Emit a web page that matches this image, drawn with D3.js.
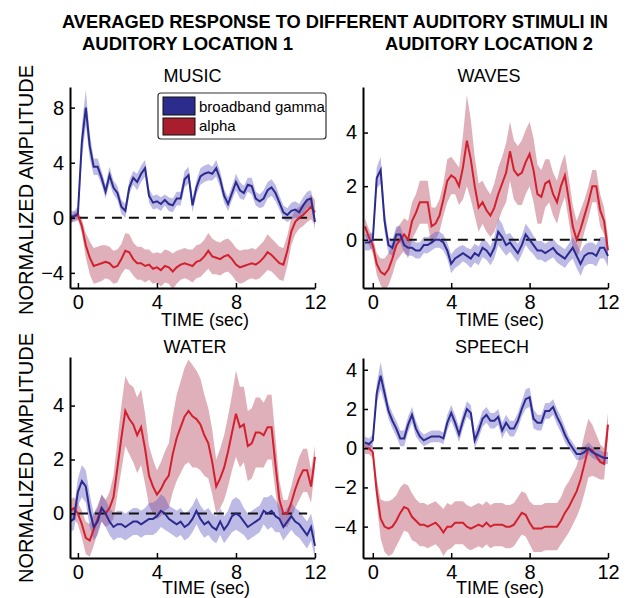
<!DOCTYPE html>
<html>
<head>
<meta charset="utf-8">
<script src="https://cdn.jsdelivr.net/npm/d3@7"></script>
<style>
  body { margin: 0; background: #fff; }
  text { font-family: "Liberation Sans", Arial, Helvetica, sans-serif; }
</style>
</head>
<body>
<div id="chart"></div>
<script>

// sample grid, seconds
const times = d3.range(63).map(i => +(-0.4 + 0.2 * i).toFixed(1));

const timeTicks   = [0, 4, 8, 12];
const musicTicks  = [-4, 0, 4, 8];
const wavesTicks  = [0, 2, 4];
const waterTicks  = [0, 2, 4];
const speechTicks = [-4, -2, 0, 2, 4];

const seriesNames = ["broadband gamma", "alpha"];

// MUSIC
const musicGamma = [0.1, 0.1, 0.3,
  5.5, 8.0, 5.2, 3.7, 3.7,
  2.9, 1.9, 3.1, 2.2, 1.8, 0.8, 0.5, 2.2, 2.9, 2.6,
  3.2, 3.6, 1.6, 1.1, 1.2, 1.0, 1.3, 1.0, 0.9, 1.4,
  1.4, 2.8, 3.1, 0.9, 2.2, 3.0, 3.2, 3.3, 3.2, 3.6,
  2.8, 1.6, 1.0, 1.8, 2.6, 2.0, 1.8, 2.4, 2.3, 1.4,
  1.2, 1.4, 2.0, 2.2, 1.8, 1.1, 0.4, 0.2, 0.5, 0.6,
  0.4, 0.9, 1.3, 1.4, -0.3];
const musicGammaSem = [0.4, 0.4, 0.5,
  1.2, 1.3, 0.9, 0.6, 0.6,
  0.5, 0.5, 0.6, 0.5, 0.5, 0.5, 0.5, 0.5, 0.5, 0.6,
  0.6, 0.6, 0.5, 0.5, 0.5, 0.5, 0.4, 0.5, 0.5, 0.5,
  0.5, 0.6, 0.6, 0.5, 0.5, 0.6, 0.6, 0.6, 0.5, 0.6,
  0.6, 0.5, 0.5, 0.5, 0.6, 0.6, 0.5, 0.5, 0.6, 0.5,
  0.5, 0.6, 0.6, 0.6, 0.6, 0.5, 0.5, 0.5, 0.6, 0.6,
  0.6, 0.6, 0.6, 0.6, 0.6];
const musicAlpha = [-0.2, 0.1, 0.2,
  -0.6, -2.0, -2.9, -3.5, -3.4,
  -3.3, -3.2, -3.3, -3.6, -3.5, -3.0, -2.4, -2.5, -3.0, -3.3,
  -3.3, -3.5, -3.4, -3.7, -3.6, -3.8, -3.5, -3.6, -3.9, -3.6,
  -3.4, -3.3, -3.4, -3.5, -3.2, -3.1, -2.8, -2.4, -2.8, -2.9,
  -3.0, -2.8, -2.7, -3.0, -3.4, -3.6, -3.5, -3.4, -3.3, -3.4,
  -3.2, -2.9, -2.5, -2.7, -3.0, -3.3, -3.4, -2.4, -1.0, -0.3,
  0.0, 0.2, 0.5, 0.8, 0.4];
const musicAlphaSem = [0.3, 0.3, 0.3,
  0.5, 0.9, 1.2, 1.3, 1.3,
  1.3, 1.2, 1.2, 1.2, 1.2, 1.1, 1.3, 1.3, 1.2, 1.2,
  1.2, 1.2, 1.1, 1.1, 1.1, 1.2, 1.2, 1.2, 1.3, 1.2,
  1.1, 1.1, 1.1, 1.2, 1.2, 1.2, 1.2, 1.3, 1.3, 1.2,
  1.2, 1.2, 1.2, 1.2, 1.2, 1.2, 1.2, 1.1, 1.1, 1.1,
  1.2, 1.2, 1.3, 1.2, 1.2, 1.2, 1.2, 1.1, 1.0, 0.9,
  0.8, 0.8, 0.8, 0.9, 0.9];

// WAVES
const wavesGamma = [-0.1, -0.1, 0.0,
  2.3, 2.6, 0.7, -0.2, -0.3,
  0.2, 0.2, -0.2, -0.3, -0.3, -0.4, -0.4, -0.2, -0.2, -0.1,
  0.0, 0.0, -0.1, -0.4, -0.9, -0.7, -0.6, -0.5, -0.6, -0.7,
  -0.5, -0.6, -0.3, -0.4, -0.6, -0.3, 0.3, 0.1, -0.2, -0.1,
  -0.3, -0.5, -0.2, 0.2, 0.0, -0.2, -0.4, -0.4, -0.5, -0.4,
  -0.3, -0.5, -0.6, -0.7, -0.5, -0.3, -0.6, -0.9, -0.6, -0.5,
  -0.5, -0.6, -0.3, -0.3, -0.6];
const wavesGammaSem = [0.3, 0.3, 0.3,
  0.4, 0.5, 0.4, 0.3, 0.3,
  0.3, 0.3, 0.3, 0.3, 0.3, 0.3, 0.3, 0.3, 0.3, 0.3,
  0.3, 0.3, 0.3, 0.3, 0.35, 0.35, 0.35, 0.3, 0.3, 0.35,
  0.35, 0.35, 0.35, 0.35, 0.35, 0.4, 0.5, 0.5, 0.4, 0.35,
  0.35, 0.35, 0.35, 0.4, 0.4, 0.35, 0.35, 0.35, 0.35, 0.35,
  0.35, 0.35, 0.35, 0.35, 0.35, 0.4, 0.45, 0.45, 0.4, 0.4,
  0.4, 0.4, 0.4, 0.4, 0.4];
const wavesAlpha = [0.5, 0.1, -0.2,
  -0.9, -1.2, -1.3, -1.1, -0.7,
  -0.2, 0.0, 0.2, 0.0, 0.7, 1.0, 1.4, 1.4, 1.4, 0.5,
  0.6, 0.9, 1.5, 2.2, 2.4, 2.3, 2.0, 2.7, 3.7, 3.0,
  2.0, 1.2, 1.4, 1.1, 0.9, 1.2, 1.7, 2.1, 2.5, 3.3,
  2.6, 2.4, 2.5, 2.9, 3.2, 2.6, 1.7, 1.6, 2.1, 2.2,
  1.7, 1.4, 2.0, 2.4, 1.5, 0.5, 0.0, 0.4, 0.9, 1.4,
  2.0, 2.0, 1.1, 0.7, -0.4];
const wavesAlphaSem = [0.3, 0.3, 0.3,
  0.4, 0.5, 0.6, 0.6, 0.6,
  0.6, 0.6, 0.6, 0.7, 0.7, 0.7, 0.8, 0.8, 0.8, 0.7,
  0.6, 0.6, 0.6, 0.8, 0.7, 0.6, 0.7, 1.2, 1.7, 1.5,
  1.1, 0.9, 0.8, 0.8, 0.8, 0.9, 1.0, 1.0, 1.1, 1.1,
  1.1, 1.1, 1.2, 1.2, 1.2, 1.2, 1.1, 1.0, 0.9, 0.8,
  0.8, 0.8, 0.8, 0.8, 0.8, 0.8, 0.7, 0.7, 0.6, 0.6,
  0.6, 0.6, 0.6, 0.5, 0.5];

// WATER
const waterGamma = [-0.3, -0.2, 0.8,
  1.2, 1.0, 0.1, -0.5, -0.3,
  0.2, 0.0, -0.3, -0.5, -0.4, -0.4, -0.5, -0.4, -0.3, -0.3,
  -0.4, -0.3, -0.2, -0.2, -0.1, 0.1, 0.0, -0.2, -0.3, -0.4,
  -0.3, -0.5, -0.4, -0.2, 0.1, -0.2, -0.4, -0.3, -0.5, -0.6,
  -0.3, -0.6, -0.4, -0.1, 0.0, -0.1, -0.3, -0.5, -0.4, -0.3,
  -0.2, 0.1, 0.0, 0.1, -0.1, -0.2, -0.5, -0.3, -0.1, -0.3,
  -0.4, -0.6, -0.8, -0.5, -1.2];
const waterGammaSem = [0.4, 0.4, 0.5,
  0.6, 0.6, 0.6, 0.5, 0.5,
  0.5, 0.5, 0.5, 0.5, 0.5, 0.5, 0.5, 0.5, 0.5, 0.5,
  0.5, 0.5, 0.6, 0.6, 0.6, 0.6, 0.6, 0.5, 0.5, 0.5,
  0.5, 0.5, 0.5, 0.5, 0.5, 0.5, 0.5, 0.5, 0.5, 0.5,
  0.5, 0.5, 0.5, 0.6, 0.6, 0.6, 0.5, 0.5, 0.5, 0.5,
  0.5, 0.5, 0.6, 0.6, 0.6, 0.5, 0.5, 0.5, 0.5, 0.5,
  0.5, 0.5, 0.5, 0.5, 0.5];
const waterAlpha = [0.1, 0.2, 0.0,
  -0.4, -0.9, -1.0, -0.6, -0.2,
  0.2, 0.0, 0.2, 0.6, 1.7, 2.8, 3.8, 3.5, 3.3, 2.9,
  3.2, 2.4, 1.4, 1.0, 0.7, 0.9, 1.2, 1.4, 2.2, 2.8,
  3.2, 3.6, 3.8, 3.6, 3.5, 3.3, 2.9, 2.6, 1.9, 1.0,
  1.3, 1.7, 2.3, 3.0, 3.7, 3.2, 3.3, 2.5, 2.6, 3.0,
  3.0, 2.9, 3.2, 3.2, 1.8, 0.5, 0.0, 0.0, 0.4, 0.9,
  1.3, 1.6, 1.6, 1.0, 2.1];
const waterAlphaSem = [0.4, 0.4, 0.4,
  0.5, 0.6, 0.6, 0.6, 0.5,
  0.5, 0.5, 0.6, 0.8, 1.0, 1.2, 1.3, 1.3, 1.4, 1.4,
  1.4, 1.3, 1.1, 1.0, 0.9, 1.0, 1.1, 1.2, 1.4, 1.6,
  1.7, 1.8, 1.9, 1.9, 1.8, 1.7, 1.5, 1.3, 1.2, 1.0,
  1.1, 1.2, 1.3, 1.4, 1.6, 1.5, 1.4, 1.3, 1.3, 1.3,
  1.3, 1.2, 1.2, 1.2, 1.0, 0.7, 0.5, 0.5, 0.6, 0.7,
  0.8, 0.8, 0.8, 0.6, 0.4];

// SPEECH
const speechGamma = [0.3, 0.2, 0.4,
  2.8, 3.7, 2.8, 1.9, 1.4,
  1.0, 0.5, 0.5, 1.2, 1.7, 1.0, 0.6, 0.4, 0.5, 0.6,
  0.6, 0.6, 0.5, 1.3, 1.8, 1.3, 0.7, 1.4, 2.0, 1.8,
  0.4, 0.9, 1.5, 1.7, 1.4, 1.4, 1.6, 0.9, 1.3, 1.0,
  1.0, 1.4, 2.0, 2.5, 2.6, 1.5, 1.3, 1.3, 1.9, 1.9,
  2.1, 1.6, 1.2, 0.7, 0.3, 0.0, -0.3, -0.3, -0.2, 0.0,
  -0.2, -0.3, -0.4, -0.5, -0.5];
const speechGammaSem = [0.3, 0.3, 0.3,
  0.5, 0.7, 0.5, 0.4, 0.4,
  0.4, 0.4, 0.4, 0.4, 0.4, 0.4, 0.3, 0.3, 0.3, 0.3,
  0.3, 0.3, 0.3, 0.4, 0.4, 0.4, 0.4, 0.4, 0.4, 0.4,
  0.4, 0.4, 0.4, 0.4, 0.4, 0.4, 0.4, 0.4, 0.4, 0.4,
  0.4, 0.4, 0.4, 0.5, 0.5, 0.5, 0.4, 0.4, 0.4, 0.4,
  0.4, 0.4, 0.4, 0.4, 0.3, 0.3, 0.3, 0.3, 0.3, 0.3,
  0.3, 0.3, 0.3, 0.3, 0.3];
const speechAlpha = [0.0, 0.0, -0.2,
  -2.2, -3.6, -4.0, -4.1, -4.0,
  -3.7, -3.3, -3.0, -3.1, -3.5, -3.7, -3.9, -3.9, -4.0, -3.9,
  -3.8, -4.0, -4.3, -4.0, -4.0, -3.8, -3.8, -3.8, -4.0, -4.1,
  -4.0, -3.9, -4.0, -3.8, -4.0, -3.9, -3.9, -3.9, -4.0, -4.0,
  -3.9, -3.6, -3.3, -3.4, -3.8, -4.1, -4.1, -4.1, -4.0, -4.0,
  -4.0, -4.0, -3.7, -3.3, -3.0, -2.6, -2.2, -1.6, -0.8, 0.0,
  -0.1, -0.4, -0.7, -0.8, 1.2];
const speechAlphaSem = [0.3, 0.3, 0.3,
  0.6, 1.0, 1.3, 1.4, 1.4,
  1.3, 1.3, 1.2, 1.2, 1.2, 1.1, 1.1, 1.1, 1.1, 1.1,
  1.1, 1.1, 1.2, 1.2, 1.1, 1.1, 1.1, 1.1, 1.1, 1.1,
  1.1, 1.1, 1.1, 1.1, 1.1, 1.1, 1.1, 1.1, 1.1, 1.1,
  1.1, 1.1, 1.1, 1.1, 1.1, 1.2, 1.2, 1.2, 1.2, 1.2,
  1.2, 1.2, 1.2, 1.3, 1.3, 1.3, 1.3, 1.4, 1.5, 1.5,
  1.3, 1.1, 0.9, 0.8, 0.6];

const gammaLine = "#2b2b8f", gammaBand = "#5a55c0";
const alphaLine = "#d2202f", alphaBand = "#b03a50";

const svg = d3.select("#chart").append("svg")
              .attr("width", 633)
              .attr("height", 598);

// main title
const title = svg.append("g")
                 .style("font-weight", "bold")
                 .style("font-size", "19px")
                 .attr("text-anchor", "middle");
title.append("text").attr("x", 335).attr("y", 28)
     .attr("textLength", 546).attr("lengthAdjust", "spacingAndGlyphs")
     .text("AVERAGED RESPONSE TO DIFFERENT AUDITORY STIMULI IN");
title.append("text").attr("x", 187.5).attr("y", 50)
     .attr("textLength", 211).attr("lengthAdjust", "spacingAndGlyphs")
     .text("AUDITORY LOCATION 1");
title.append("text").attr("x", 489).attr("y", 50)
     .attr("textLength", 208).attr("lengthAdjust", "spacingAndGlyphs")
     .text("AUDITORY LOCATION 2");

// y labels, one per row
[190, 458].forEach(cy => {
    svg.append("text")
       .attr("transform", "translate(33," + cy + ") rotate(-90)")
       .attr("text-anchor", "middle")
       .style("font-size", "20px")
       .text("NORMALIZED AMPLITUDE");
});

const panels = [
    {name: "MUSIC", gamma: musicGamma, gammaSem: musicGammaSem, alpha: musicAlpha, alphaSem: musicAlphaSem,
     xd: [-0.4, 12], xr: [70, 315], yd: [-5.1, 9.5], yr: [288, 87], yt: musicTicks,
     tx: 192.5, ty: 82, lx: 205, ly: 326},
    {name: "WAVES", gamma: wavesGamma, gammaSem: wavesGammaSem, alpha: wavesAlpha, alphaSem: wavesAlphaSem,
     xd: [-0.5, 12], xr: [363, 608], yd: [-1.8, 5.7], yr: [288, 87], yt: wavesTicks,
     tx: 489, ty: 82, lx: 500, ly: 326},
    {name: "WATER", gamma: waterGamma, gammaSem: waterGammaSem, alpha: waterAlpha, alphaSem: waterAlphaSem,
     xd: [-0.4, 12], xr: [70, 315], yd: [-1.65, 5.8], yr: [558, 357], yt: waterTicks,
     tx: 195, ty: 353, lx: 206, ly: 594},
    {name: "SPEECH", gamma: speechGamma, gammaSem: speechGammaSem, alpha: speechAlpha, alphaSem: speechAlphaSem,
     xd: [-0.5, 12], xr: [363, 608], yd: [-5.6, 4.6], yr: [558, 358], yt: speechTicks,
     tx: 492, ty: 353, lx: 500, ly: 594}
];

panels.forEach((p, k) => {
    let x = d3.scaleLinear().domain(p.xd).range(p.xr);
    let y = d3.scaleLinear().domain(p.yd).range(p.yr);

    let clipId = "clip" + k;
    svg.append("clipPath").attr("id", clipId)
       .append("rect")
       .attr("x", p.xr[0]).attr("y", p.yr[1])
       .attr("width", p.xr[1] - p.xr[0] + 4)
       .attr("height", p.yr[0] - p.yr[1]);

    let plot = svg.append("g").attr("clip-path", "url(#" + clipId + ")");

    let band = (vals, sem) => d3.area()
        .x((d, i) => x(times[i]))
        .y0((d, i) => y(vals[i] - sem[i]))
        .y1((d, i) => y(vals[i] + sem[i]))(times);
    let line = vals => d3.line()
        .x((d, i) => x(times[i]))
        .y(d => y(d))(vals);

    plot.append("path").attr("d", band(p.alpha, p.alphaSem))
        .attr("fill", alphaBand).attr("fill-opacity", 0.4);
    plot.append("path").attr("d", band(p.gamma, p.gammaSem))
        .attr("fill", gammaBand).attr("fill-opacity", 0.4);

    plot.append("line")
        .attr("x1", x(0)).attr("x2", x(11.6))
        .attr("y1", y(0)).attr("y2", y(0))
        .attr("stroke", "#111")
        .attr("stroke-width", 2)
        .attr("stroke-dasharray", "10,7");

    plot.append("path").attr("d", line(p.alpha))
        .attr("fill", "none").attr("stroke", alphaLine).attr("stroke-width", 2);
    plot.append("path").attr("d", line(p.gamma))
        .attr("fill", "none").attr("stroke", gammaLine).attr("stroke-width", 2);

    let yAxis = svg.append("g")
                   .attr("transform", "translate(" + p.xr[0] + ",0)")
                   .call(d3.axisLeft(y).tickValues(p.yt).tickSize(-5).tickSizeOuter(0).tickPadding(6));
    let xAxis = svg.append("g")
                   .attr("transform", "translate(0," + p.yr[0] + ")")
                   .call(d3.axisBottom(x).tickValues(timeTicks).tickSize(-5).tickSizeOuter(0).tickPadding(7));

    [yAxis, xAxis].forEach(a => {
        a.select(".domain").attr("stroke", "#000").attr("stroke-width", 2);
        a.selectAll(".tick line").attr("stroke", "#000").attr("stroke-width", 1.5);
        a.selectAll(".tick text")
         .attr("fill", "#000")
         .style("font-size", "20px")
         .style("font-family", "'Liberation Sans', Arial, Helvetica, sans-serif");
    });

    svg.append("text").attr("x", p.tx).attr("y", p.ty)
       .attr("text-anchor", "middle")
       .style("font-size", "18px")
       .text(p.name);

    svg.append("text").attr("x", p.lx).attr("y", p.ly)
       .attr("text-anchor", "middle")
       .style("font-size", "18px")
       .text("TIME (sec)");
});

// legend inside the first panel
let legend = svg.append("g");
legend.append("rect")
      .attr("x", 158).attr("y", 93)
      .attr("width", 168).attr("height", 46)
      .attr("rx", 3).attr("ry", 3)
      .attr("fill", "#fff")
      .attr("stroke", "#333")
      .attr("stroke-width", 1.2);
[["#2c2c8c", 97, 18, 112], ["#a81e2c", 118, 17, 131]].forEach((s, i) => {
    legend.append("rect")
          .attr("x", 163).attr("y", s[1])
          .attr("width", 32).attr("height", s[2])
          .attr("fill", s[0])
          .attr("stroke", "#111")
          .attr("stroke-width", 1);
    legend.append("text")
          .attr("x", 199).attr("y", s[3])
          .style("font-size", "15px")
          .text(seriesNames[i]);
});

</script>
</body>
</html>
